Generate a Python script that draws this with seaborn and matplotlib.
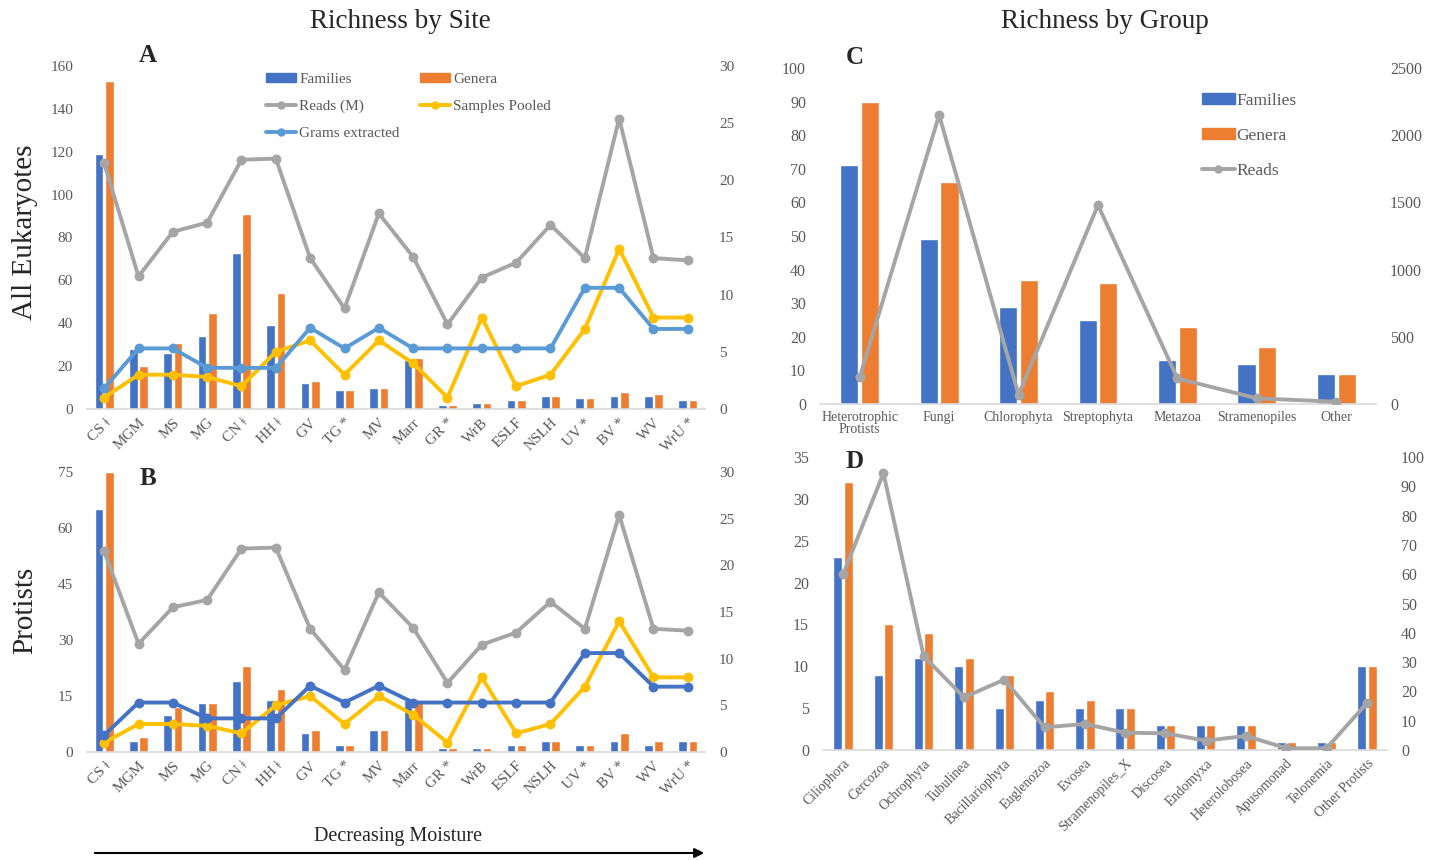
import numpy as np
import pandas as pd
import matplotlib
matplotlib.use("Agg")
import matplotlib.pyplot as plt
import seaborn as sns
from matplotlib.patches import Patch, FancyArrowPatch
from matplotlib.lines import Line2D

sns.set_theme(style="white")
plt.rcParams["font.family"] = ["Liberation Serif", "DejaVu Serif"]

# ---- richness by site ----
sites = ["CS ǂ", "MGM", "MS", "MG", "CN ǂ", "HH ǂ", "GV", "TG *", "MV", "Marr",
         "GR *", "WrB", "ESLF", "NSLH", "UV *", "BV *", "WV", "WrU *"]
euk_families = [119, 28, 26, 34, 73, 39, 12, 9, 10, 23, 2, 3, 4, 6, 5, 6, 6, 4]
euk_genera = [153, 20, 31, 45, 91, 54, 13, 9, 10, 24, 2, 3, 4, 6, 5, 8, 7, 4]
pro_families = [65, 3, 10, 13, 19, 14, 5, 2, 6, 14, 1, 1, 2, 3, 2, 3, 2, 3]
pro_genera = [75, 4, 12, 13, 23, 17, 6, 2, 6, 14, 1, 1, 2, 3, 2, 5, 3, 3]
reads_m = [21.5, 11.6, 15.5, 16.3, 21.8, 21.9, 13.2, 8.8, 17.1, 13.3,
           7.4, 11.5, 12.8, 16.1, 13.2, 25.4, 13.2, 13.0]
samples_pooled = [1, 3, 3, 2.8, 2, 5, 6, 3, 6, 4, 1, 8, 2, 3, 7, 14, 8, 8]
grams_extracted = [1.8, 5.3, 5.3, 3.6, 3.6, 3.6, 7.1, 5.3, 7.1, 5.3,
                   5.3, 5.3, 5.3, 5.3, 10.6, 10.6, 7.0, 7.0]

# ---- richness by group ----
groups = ["Heterotrophic\nProtists", "Fungi", "Chlorophyta", "Streptophyta",
          "Metazoa", "Stramenopiles", "Other"]
group_families = [71, 49, 29, 25, 13, 12, 9]
group_genera = [90, 66, 37, 36, 23, 17, 9]
group_reads = [200, 2150, 70, 1480, 190, 42, 17]

protist_groups = ["Ciliophora", "Cercozoa", "Ochrophyta", "Tubulinea", "Bacillariophyta",
                  "Euglenozoa", "Evosea", "Stramenopiles_X", "Discosea", "Endomyxa",
                  "Heterolobosea", "Apusomonad", "Telonemia", "Other Protists"]
protist_families = [23, 9, 11, 10, 5, 6, 5, 5, 3, 3, 3, 1, 1, 10]
protist_genera = [32, 15, 14, 11, 9, 7, 6, 5, 3, 3, 3, 1, 1, 10]
protist_reads = [60, 94.5, 32, 18, 24, 7.7, 8.9, 5.9, 5.7, 3.2, 4.8, 0.6, 0.6, 16]

BLUE = "#4472C4"
ORANGE = "#ED7D31"
GRAY = "#A5A5A5"
YELLOW = "#FFC000"
LIGHTBLUE = "#5B9BD5"
TICK = "#595959"
AXIS = "#D9D9D9"

W, H = 1445, 860
fig = plt.figure(figsize=(W / 100, H / 100), dpi=100)


def box(x0, y_top, x1, y_bot):
    return [x0 / W, 1 - y_bot / H, (x1 - x0) / W, (y_bot - y_top) / H]


def bars(ax, cats, fam, gen, width, gap):
    n = len(cats)
    df = pd.DataFrame({"cat": cats * 2, "count": fam + gen,
                       "level": ["Families"] * n + ["Genera"] * n})
    sns.barplot(data=df, x="cat", y="count", hue="level", order=cats,
                palette=[BLUE, ORANGE], saturation=1, width=width, gap=gap,
                legend=False, ax=ax)


def line(ax, cats, vals, color, lw=2.8, ms=5):
    sns.pointplot(x=cats, y=vals, order=cats, color=color, markers="o",
                  errorbar=None, linewidth=lw, markersize=ms, ax=ax)


def finish(ax, ax2, cats, ymax, ystep, rmax, rstep, fs, xfs, rot):
    ax.set_ylim(0, ymax)
    ax.set_yticks(np.arange(0, ymax + 0.1, ystep))
    ax2.set_ylim(0, rmax)
    ax2.set_yticks(np.arange(0, rmax + 0.1, rstep))
    for a in (ax, ax2):
        a.set_xlabel("")
        a.set_ylabel("")
        for s in a.spines.values():
            s.set_visible(False)
        a.tick_params(axis="y", colors=TICK, labelsize=fs, length=0, pad=10)
    ax.spines["bottom"].set_visible(True)
    ax.spines["bottom"].set_color(AXIS)
    ax.spines["bottom"].set_linewidth(1.2)
    ax.set_xlim(-0.5, len(cats) - 0.5)
    ax.set_xticks(range(len(cats)))
    if rot:
        ax.set_xticklabels(cats, rotation=45, ha="right", rotation_mode="anchor",
                           fontsize=xfs, color=TICK)
    else:
        ax.set_xticklabels(cats, fontsize=xfs, color=TICK, linespacing=0.95)
    ax.tick_params(axis="x", length=0, pad=5)
    ax2.tick_params(axis="x", length=0, labelbottom=False, labeltop=False)


def site_panel(rect, fam, gen, ymax, ystep, grams_color):
    ax = fig.add_axes(rect)
    bars(ax, sites, fam, gen, 0.6, 0.15)
    ax2 = ax.twinx()
    line(ax2, sites, reads_m, GRAY)
    line(ax2, sites, samples_pooled, YELLOW)
    line(ax2, sites, grams_extracted, grams_color)
    finish(ax, ax2, sites, ymax, ystep, 30, 5, 11, 11, True)
    return ax, ax2


# Panel A
axA, axA2 = site_panel(box(87, 66, 705, 409), euk_families, euk_genera, 160, 20, LIGHTBLUE)
handles = [Patch(color=BLUE, label="Families"),
           Line2D([], [], color=GRAY, lw=2.8, marker="o", ms=5, label="Reads (M)"),
           Line2D([], [], color=LIGHTBLUE, lw=2.8, marker="o", ms=5, label="Grams extracted"),
           Patch(color=ORANGE, label="Genera"),
           Line2D([], [], color=YELLOW, lw=2.8, marker="o", ms=5, label="Samples Pooled")]
axA2.legend(handles=handles, ncol=2, frameon=False, loc="upper left",
            bbox_to_anchor=(252 / W, 1 - 59 / H), bbox_transform=fig.transFigure,
            fontsize=11, labelcolor=TICK, handlelength=2.0, handletextpad=0.2,
            columnspacing=1.3, labelspacing=0.9, handleheight=0.6)

# Panel B
axB, axB2 = site_panel(box(87, 472, 705, 752), pro_families, pro_genera, 75, 15, BLUE)

# Panel C
axC = fig.add_axes(box(820, 68, 1376, 404))
bars(axC, groups, group_families, group_genera, 0.52, 0.12)
axC2 = axC.twinx()
line(axC2, groups, group_reads, GRAY)
finish(axC, axC2, groups, 100, 10, 2500, 500, 11.5, 10, False)
handlesC = [Patch(color=BLUE, label="Families"),
            Patch(color=ORANGE, label="Genera"),
            Line2D([], [], color=GRAY, lw=2.8, marker="o", ms=5, label="Reads")]
axC2.legend(handles=handlesC, frameon=False, loc="upper left",
            bbox_to_anchor=(1186 / W, 1 - 77 / H), bbox_transform=fig.transFigure,
            fontsize=12.5, labelcolor=TICK, handlelength=1.9, handletextpad=0.1,
            labelspacing=1.1, handleheight=0.6)

# Panel D
axD = fig.add_axes(box(823, 457, 1387, 750))
bars(axD, protist_groups, protist_families, protist_genera, 0.52, 0.15)
axD2 = axD.twinx()
line(axD2, protist_groups, protist_reads, GRAY)
finish(axD, axD2, protist_groups, 35, 5, 100, 10, 11.5, 10, True)

# Titles, panel letters and axis captions
fig.text(400 / W, 1 - 22 / H, "Richness by Site", fontsize=19.5, ha="center", va="center")
fig.text(1105 / W, 1 - 22 / H, "Richness by Group", fontsize=19.5, ha="center", va="center")
for letter, x, y in [("A", 148, 55), ("B", 148, 478), ("C", 855, 57), ("D", 855, 462)]:
    fig.text(x / W, 1 - y / H, letter, fontsize=18, fontweight="bold",
             ha="center", va="center")
fig.text(25 / W, 1 - 232 / H, "All Eukaryotes", fontsize=21, rotation=90,
         ha="center", va="center")
fig.text(25 / W, 1 - 610 / H, "Protists", fontsize=21, rotation=90,
         ha="center", va="center")
fig.text(398 / W, 1 - 836 / H, "Decreasing Moisture", fontsize=14.5,
         ha="center", va="center")
fig.add_artist(FancyArrowPatch(
    (92 / W, 1 - 853 / H), (707 / W, 1 - 853 / H), transform=fig.transFigure,
    arrowstyle="-|>", mutation_scale=14, color="black", lw=1.5))

fig.savefig("out.png", dpi=100)
